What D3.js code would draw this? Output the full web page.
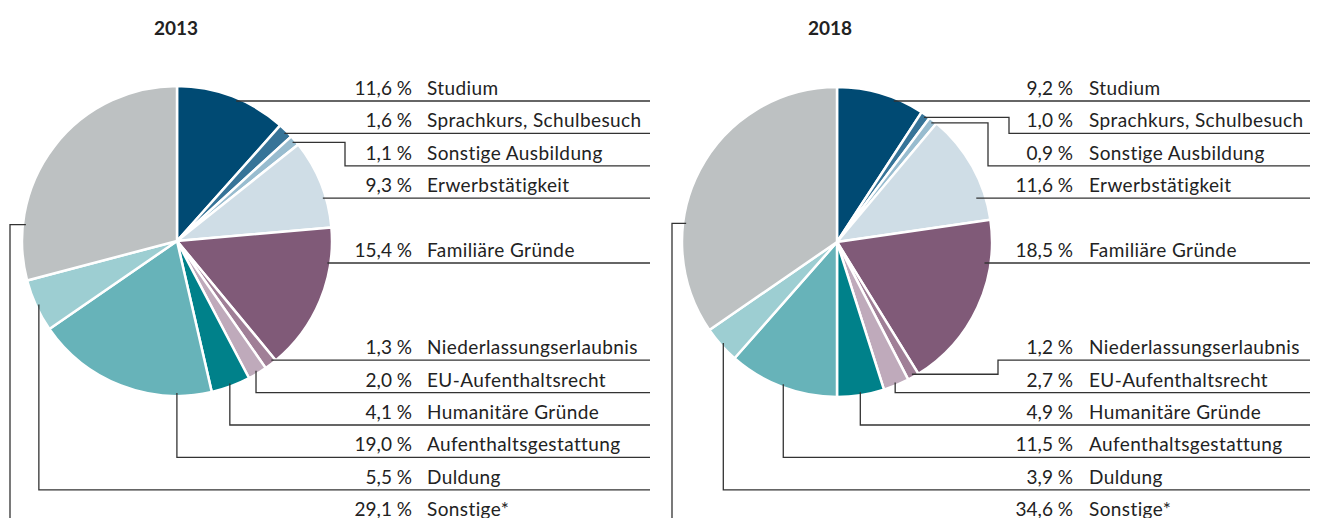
<!DOCTYPE html>
<html lang="de">
<head>
    <meta charset="UTF-8">
    <title>Aufenthaltszwecke 2013 und 2018</title>
    <script src="https://cdnjs.cloudflare.com/ajax/libs/d3/7.8.5/d3.min.js"></script>
    <style type="text/css">
        body { margin: 0; background: #fff; }
        text { font-family: Lato, "Open Sans", sans-serif; fill: #222; }
    </style>
</head>
<body>
    <div id="chart"></div>
    <script type="text/javascript">

        // Data
        var categories = ["Studium", "Sprachkurs, Schulbesuch", "Sonstige Ausbildung", "Erwerbstätigkeit",
            "Familiäre Gründe", "Niederlassungserlaubnis", "EU-Aufenthaltsrecht", "Humanitäre Gründe",
            "Aufenthaltsgestattung", "Duldung", "Sonstige*"];
        var values2013 = [11.6, 1.6, 1.1, 9.3, 15.4, 1.3, 2.0, 4.1, 19.0, 5.5, 29.1];
        var values2018 = [9.2, 1.0, 0.9, 11.6, 18.5, 1.2, 2.7, 4.9, 11.5, 3.9, 34.6];
        var years = ["2013", "2018"];
        var colors = ["#004a73", "#377498", "#98bccf", "#cfdde6", "#805a78", "#a07f97",
            "#bfaabb", "#00818a", "#67b3b9", "#9dced2", "#bdc1c2"];

        // label row for each category (rows are equally spaced)
        var rows = [0, 1, 2, 3, 5, 8, 9, 10, 11, 12, 13];

        // connector routing per chart: h = straight at row, v = drop down, e = elbow
        var routes2013 = [
            {t: "h"}, {t: "h"}, {t: "e", ex: 345}, {t: "h"}, {t: "h"}, {t: "h"},
            {t: "v"}, {t: "v"}, {t: "v", f: 0.19}, {t: "v"}, {t: "e", ex: 10, f: 0.2}
        ];
        var routes2018 = [
            {t: "h"}, {t: "e", ex: 1009}, {t: "e", ex: 988}, {t: "h", inset: 9}, {t: "h", inset: 6}, {t: "e", ex: 998},
            {t: "v"}, {t: "v"}, {t: "v"}, {t: "v"}, {t: "e", ex: 672, f: 0.334}
        ];

        var w = 1319;
        var h = 518;
        var radius = 155;
        var rowTop = 95;
        var rowStep = 32.4;

        var svg = d3.select("#chart")
            .append("svg")
            .attr("width", w)
            .attr("height", h);

        var pie = d3.pie().sort(null).value(function(d) { return d; });
        var arc = d3.arc().innerRadius(0).outerRadius(radius);

        var charts = [
            {values: values2013, routes: routes2013, cx: 177, cy: 241, titleX: 176, pctX: 412, nameX: 427, endX: 650},
            {values: values2018, routes: routes2018, cx: 837, cy: 242, titleX: 830, pctX: 1073, nameX: 1089, endX: 1310}
        ];

        var fmt = function(v) { return d3.format(".1f")(v).replace(".", ",") + " %"; };

        charts.forEach(function(c, ci) {
            var g = svg.append("g");

            g.append("text")
                .attr("x", c.titleX)
                .attr("y", 35)
                .attr("text-anchor", "middle")
                .attr("font-size", "19px")
                .attr("font-weight", "bold")
                .text(years[ci]);

            var arcs = pie(c.values);

            var pg = g.append("g")
                .attr("transform", "translate(" + c.cx + "," + c.cy + ")");

            pg.selectAll("path")
                .data(arcs)
                .enter()
                .append("path")
                .attr("d", arc)
                .attr("fill", function(d, i) { return colors[i]; })
                .attr("stroke", "#fff")
                .attr("stroke-width", 2.5)
                .attr("stroke-linejoin", "round");

            // labels + connectors
            arcs.forEach(function(a, i) {
                var rowY = rowTop + rows[i] * rowStep;
                var lineY = rowY + 6;
                var r = c.routes[i];
                var path;

                if (r.t === "h") {
                    var rr = radius - (r.inset || 3);
                    var dy = lineY - c.cy;
                    var x0 = c.cx + Math.sqrt(rr * rr - dy * dy);
                    path = "M" + x0 + "," + lineY + "H" + c.endX;
                } else {
                    var f = r.f === undefined ? 0.5 : r.f;
                    var ang = a.startAngle + (a.endAngle - a.startAngle) * f;
                    var px = c.cx + (radius - 3) * Math.sin(ang);
                    var py = c.cy - (radius - 3) * Math.cos(ang);
                    if (r.t === "v") {
                        path = "M" + px + "," + py + "V" + lineY + "H" + c.endX;
                    } else {
                        path = "M" + px + "," + py + "H" + r.ex + "V" + lineY + "H" + c.endX;
                    }
                }

                g.append("path")
                    .attr("d", path)
                    .attr("fill", "none")
                    .attr("stroke", "#333")
                    .attr("stroke-width", 1.3);

                g.append("text")
                    .attr("x", c.pctX)
                    .attr("y", rowY)
                    .attr("text-anchor", "end")
                    .attr("font-size", "19px")
                    .text(fmt(c.values[i]));

                g.append("text")
                    .attr("x", c.nameX)
                    .attr("y", rowY)
                    .attr("font-size", "19px")
                    .attr("letter-spacing", "0.4px")
                    .text(categories[i]);
            });
        });

    </script>
</body>
</html>
